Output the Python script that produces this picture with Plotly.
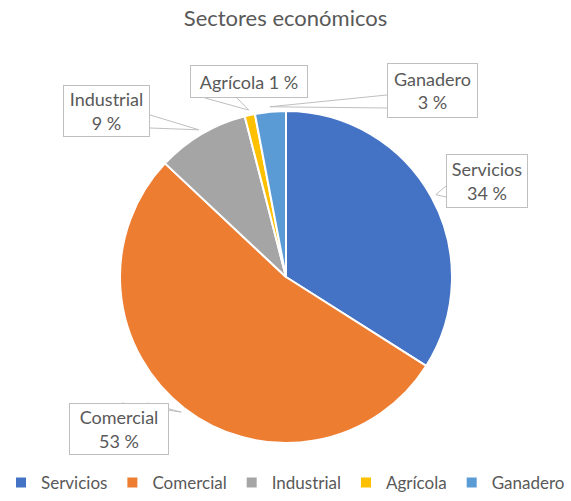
import math
import plotly.graph_objects as go

# data
sectores = ["Servicios", "Comercial", "Industrial", "Agrícola", "Ganadero"]
porcentajes = [34, 53, 9, 1, 3]
colores = ["#4472C4", "#ED7D31", "#A5A5A5", "#FFC000", "#5B9BD5"]

W, H = 571, 501
FONT = "Lato, 'Open Sans', sans-serif"
GRIS = "#595959"
BORDE = "#BFBFBF"

# pie geometry in pixels
cx, cy, r = 286, 277, 166

# callout boxes (px): x0, y0, x1, y1, and the two base points of the pointer
cajas = {
    "Servicios": dict(box=(446, 154, 528, 208), base=((446, 186), (446, 197)), one_line=False),
    "Comercial": dict(box=(69, 403, 169, 455), base=((122, 403), (147, 403)), one_line=False),
    "Industrial": dict(box=(63, 85, 150, 137), base=((150, 115), (150, 128)), one_line=False),
    "Agrícola": dict(box=(190, 65, 308, 98), base=((205, 98), (237, 98)), one_line=True),
    "Ganadero": dict(box=(387, 63, 478, 118), base=((387, 95), (387, 108)), one_line=False),
}


def px(x, y):
    return x / W, 1 - y / H


fig = go.Figure(
    go.Pie(
        labels=sectores,
        values=porcentajes,
        marker=dict(colors=colores, line=dict(color="white", width=2)),
        sort=False,
        direction="clockwise",
        rotation=0,
        textinfo="none",
        hoverinfo="label+percent",
        domain=dict(
            x=[(cx - r) / W, (cx + r) / W],
            y=[1 - (cy + r) / H, 1 - (cy - r) / H],
        ),
    )
)

total = sum(porcentajes)
acum = 0
shapes = []
annotations = []
for nombre, valor in zip(sectores, porcentajes):
    theta = 2 * math.pi * (acum + valor / 2) / total
    acum += valor
    # pointer tip just outside the slice edge
    tx = cx + r * 1.03 * math.sin(theta)
    ty = cy - r * 1.03 * math.cos(theta)
    caja = cajas[nombre]
    (bx0, by0), (bx1, by1) = caja["base"]
    pts = [px(bx0, by0), px(tx, ty), px(bx1, by1)]
    path = "M {:.4f},{:.4f} L {:.4f},{:.4f} L {:.4f},{:.4f}".format(
        pts[0][0], pts[0][1], pts[1][0], pts[1][1], pts[2][0], pts[2][1])
    shapes.append(dict(type="path", xref="paper", yref="paper", path=path,
                       fillcolor="white", line=dict(color=BORDE, width=1),
                       layer="above"))
    x0, y0, x1, y1 = caja["box"]
    sep = " " if caja["one_line"] else "<br>"
    ax, ay = px((x0 + x1) / 2, (y0 + y1) / 2)
    annotations.append(dict(
        x=ax, y=ay, xref="paper", yref="paper",
        text=f"{nombre}{sep}{valor} %",
        showarrow=False,
        width=x1 - x0 - 2, height=y1 - y0 - 2,
        font=dict(family=FONT, size=18, color=GRIS),
        bgcolor="white", bordercolor=BORDE, borderwidth=1, borderpad=0,
        xanchor="center", yanchor="middle", align="center", valign="middle",
    ))

fig.update_layout(
    width=W, height=H,
    margin=dict(l=0, r=0, t=0, b=0),
    paper_bgcolor="white",
    title=dict(text="Sectores económicos", x=0.5, xanchor="center",
               y=1 - 18 / H, yanchor="middle",
               font=dict(family=FONT, size=22, color=GRIS)),
    showlegend=True,
    legend=dict(orientation="h", x=0.5, xanchor="center",
                y=0, yanchor="bottom",
                font=dict(family=FONT, size=17, color=GRIS),
                itemwidth=30, traceorder="normal"),
    shapes=shapes,
    annotations=annotations,
)

# drop the browser's default 8px body margin so the figure fills the window
fig.write_html("out.html", config={"displayModeBar": False},
               post_script="document.body.style.margin='0';")
